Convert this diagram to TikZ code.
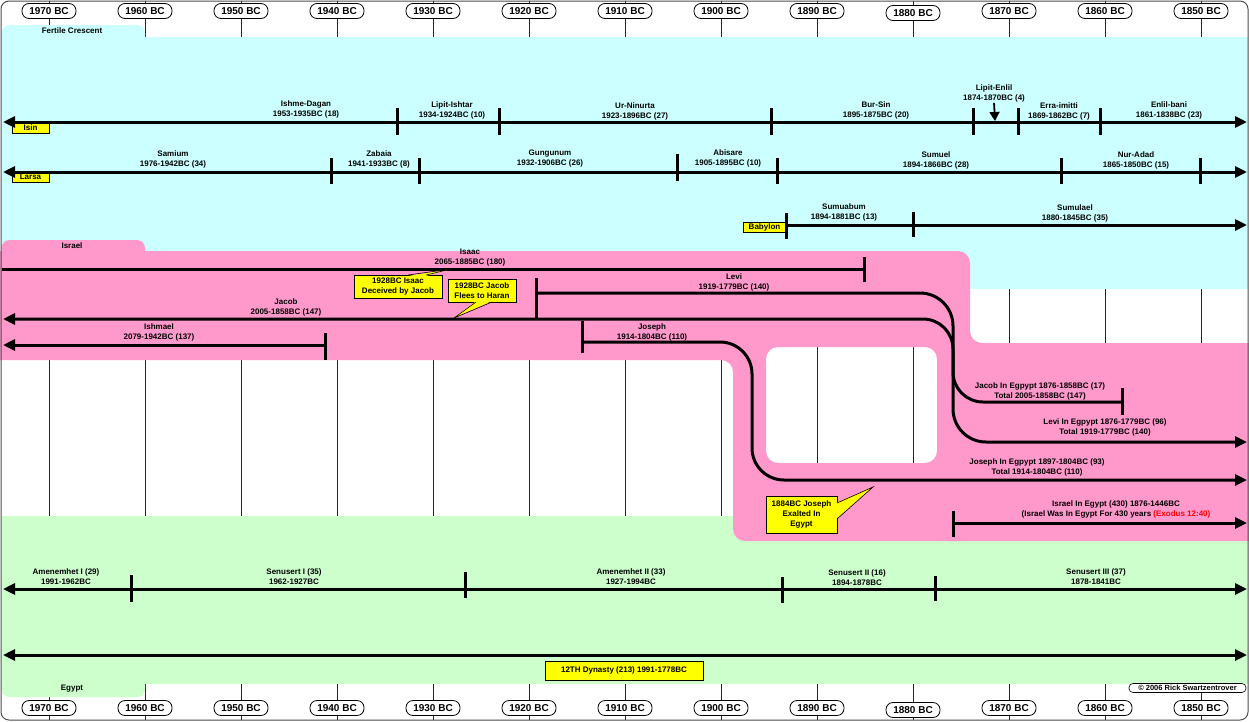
\documentclass[tikz,border=0pt]{standalone}
\usepackage{fontspec}
\setmainfont{Liberation Sans}
\usetikzlibrary{arrows.meta}
\usetikzlibrary{calc}

\definecolor{crescent}{HTML}{CCFFFF}
\definecolor{israelpink}{HTML}{FF99CC}
\definecolor{egyptgreen}{HTML}{CCFFCC}
\definecolor{noteyellow}{HTML}{FFFF00}

\tikzset{
  yearpill/.style={draw, line width=0.8pt, fill=white, rounded corners=7pt, minimum width=54pt, minimum height=15pt, inner sep=0pt, font=\fontsize{10}{12}\selectfont\bfseries},
  lbl/.style={align=center, inner sep=0pt, font=\fontsize{8}{10}\selectfont\bfseries},
  tagbox/.style={draw, line width=0.6pt, fill=noteyellow, inner sep=0pt, align=center, font=\fontsize{8}{10}\selectfont\bfseries},
  timeline/.style={line width=3pt},
  divider/.style={line width=3pt},
  gridline/.style={line width=0.8pt, black!85},
  rarr/.style={-{Triangle[length=12pt,width=11pt]}},
  larr/.style={{Triangle[length=12pt,width=11pt]}-},
  lrarr/.style={{Triangle[length=12pt,width=11pt]}-{Triangle[length=12pt,width=11pt]}},
}

\newcommand{\rtick}[3]{\draw[divider] (#1,#2) -- (#1,#3);}

\begin{document}
\begin{tikzpicture}[x=1pt,y=-1pt]
            \useasboundingbox (0,0) rectangle (1249,721);

            % Year grid
            \foreach \i in {0,...,12}
                \draw[gridline] ({49+96*\i},1) -- ({49+96*\i},720);

            % Fertile Crescent
            \fill[crescent, rounded corners=8pt] (1.5,25) rectangle (145,50);
            \fill[crescent] (1.5,37) rectangle (1248,289);
            \node[lbl] (fcres) at (72,31) {Fertile Crescent};

            % Egypt
            \fill[egyptgreen, rounded corners=8pt] (1.5,670) rectangle (145,697);
            \fill[egyptgreen] (1.5,516) rectangle (1248,684);
            \node[lbl] (egypt) at (72,689) {Egypt};

            % Israel
            \fill[israelpink, rounded corners=8pt] (1.5,240) rectangle (145,262);
            \fill[israelpink, even odd rule, rounded corners=12pt]
                (-20,251) -- (970,251) -- (970,343) -- (1270,343) -- (1270,541)
                -- (733,541) -- (733,360) -- (-20,360) -- cycle
                (766,347) rectangle (937,463);
            \node[lbl] (israel) at (72,246) {Israel};

            % Year labels
            \foreach \yr [count=\i from 0] in {1970,1960,...,1850}{
                \pgfmathsetmacro{\dy}{(\yr==1880)*2}
                \node[yearpill] (top\yr) at ({49+96*\i},{11+\dy}) {\yr\ BC};
                \node[yearpill] (bot\yr) at ({49+96*\i},{708+\dy}) {\yr\ BC};
            }

            % Isin
            \node[tagbox, minimum width=37pt, minimum height=10pt] (isin) at (30.5,128) {Isin};
            \draw[timeline, lrarr] (3,122) -- (1247,122);
            \foreach \x in {397,499,771,973,1018,1100} \rtick{\x}{108}{135};
            \node[lbl] (ishme) at (306,109) {Ishme-Dagan\\1953-1935BC (18)};
            \node[lbl] (lishtar) at (452,110) {Lipit-Ishtar\\1934-1924BC (10)};
            \node[lbl] (urnin) at (635,111) {Ur-Ninurta\\1923-1896BC (27)};
            \node[lbl] (bursin) at (876,110.5) {Bur-Sin\\1895-1875BC (20)};
            \node[lbl] (lenlil) at (994,93) {Lipit-Enlil\\1874-1870BC (4)};
            \node[lbl] (erra) at (1059,111) {Erra-imitti\\1869-1862BC (7)};
            \node[lbl] (enbani) at (1169,110) {Enlil-bani\\1861-1838BC (23)};
            \coordinate (lenlilpt) at (995,121);
            \draw[line width=1.8pt, -{Triangle[length=9pt,width=10pt]}, shorten <=1pt] (lenlil.south) -- (lenlilpt);

            % Larsa
            \node[tagbox, minimum width=37pt, minimum height=10pt] (larsa) at (30.5,177) {Larsa};
            \draw[timeline, lrarr] (3,172) -- (1247,172);
            \foreach \x in {331,419,777,1061,1200} \rtick{\x}{158}{184};
            \rtick{677}{154}{181}
            \node[lbl] (samium) at (173,159) {Samium\\1976-1942BC (34)};
            \node[lbl] (zabaia) at (379,159) {Zabaia\\1941-1933BC (8)};
            \node[lbl] (gungun) at (550,159) {Gungunum\\1932-1906BC (26)};
            \node[lbl] (abisare) at (728,158) {Abisare\\1905-1895BC (10)};
            \node[lbl] (sumuel) at (936,160) {Sumuel\\1894-1866BC (28)};
            \node[lbl] (nuradad) at (1136,160) {Nur-Adad\\1865-1850BC (15)};

            % Babylon
            \node[tagbox, minimum width=43pt, minimum height=10pt] (babylon) at (764.5,227) {Babylon};
            \draw[timeline, rarr] (786,225) -- (1247,225);
            \rtick{786}{213}{239}
            \rtick{913}{212}{237}
            \node[lbl] (sumuab) at (844,212.5) {Sumuabum\\1894-1881BC (13)};
            \node[lbl] (sumulael) at (1075,213) {Sumulael\\1880-1845BC (35)};

            % Patriarchs
            \draw[timeline] (1.5,269) -- (864,269);
            \rtick{864}{257}{282}
            \node[lbl] (isaac) at (470,258) {Isaac\\2065-1885BC (180)};

            \draw[timeline, rarr, rounded corners=33pt] (536,293) -- (953,293) -- (953,442) -- (1247,442);
            \rtick{536}{278}{319}
            \node[lbl] (levi) at (734,282) {Levi\\1919-1779BC (140)};

            \draw[timeline, larr, rounded corners=30pt] (3,319) -- (953,319) -- (953,402) -- (1122,402);
            \rtick{1122}{388}{415}
            \node[lbl] (jacob) at (286,307) {Jacob\\2005-1858BC (147)};

            \draw[timeline, rarr, rounded corners=32pt] (582,342) -- (752,342) -- (752,480) -- (1247,480);
            \rtick{582}{321}{353}
            \node[lbl] (joseph) at (652,332) {Joseph\\1914-1804BC (110)};

            \draw[timeline, larr] (3,345) -- (325,345);
            \rtick{325}{333}{360}
            \node[lbl] (ishmael) at (159,332) {Ishmael\\2079-1942BC (137)};

            % In Egypt
            \node[lbl] (jacobeg) at (1040,391) {Jacob In Egpypt 1876-1858BC (17)\\Total 2005-1858BC (147)};
            \node[lbl] (levieg) at (1105,427) {Levi In Egpypt 1876-1779BC (96)\\Total 1919-1779BC (140)};
            \node[lbl] (josepheg) at (1037,467) {Joseph In Egpypt 1897-1804BC (93)\\Total 1914-1804BC (110)};
            \draw[timeline, rarr] (953,523) -- (1247,523);
            \rtick{953}{511}{537}
            \node[lbl] (israeleg) at (1116,509) {Israel In Egypt (430) 1876-1446BC\\(Israel Was In Egypt For 430 years \textcolor{red}{(Exodus 12:40)}};

            % Callouts
            \node[tagbox, minimum width=88pt, minimum height=23pt] (isaacnote) at (398,286.5) {1928BC Isaac\\Deceived by Jacob};
            \fill[noteyellow] (408,276) -- (451,269) -- (426,276) -- cycle;
            \draw[line width=0.6pt] (408,275) -- (451,269) -- (426,275);

            \node[tagbox, minimum width=68pt, minimum height=23pt] (jacobnote) at (482,290.5) {1928BC Jacob\\Flees to Haran};
            \fill[noteyellow] (476,301) -- (454,318) -- (492,301) -- cycle;
            \draw[line width=0.6pt] (476,302) -- (454,318) -- (492,302);

            \node[tagbox, minimum width=71pt, minimum height=37pt] (josephnote) at (801.5,514.5) {1884BC Joseph\\Exalted In\\Egypt};
            \fill[noteyellow] (836,503) -- (873,487) -- (836,519) -- cycle;
            \draw[line width=0.6pt] (837,503) -- (873,487) -- (837,519);

            % Egyptian kings
            \draw[timeline, lrarr] (3,589) -- (1247,589);
            \rtick{131}{575}{602}
            \rtick{465}{572}{598}
            \rtick{782}{577}{603}
            \rtick{935}{576}{601}
            \node[lbl] (amen1) at (66,577) {Amenemhet I (29)\\1991-1962BC};
            \node[lbl] (senu1) at (294,577) {Senusert I (35)\\1962-1927BC};
            \node[lbl] (amen2) at (631,577) {Amenemhet II (33)\\1927-1994BC};
            \node[lbl] (senu2) at (857,578) {Senusert II (16)\\1894-1878BC};
            \node[lbl] (senu3) at (1096,577) {Senusert III (37)\\1878-1841BC};

            % Dynasty
            \draw[timeline, lrarr] (3,655) -- (1247,655);
            \node[tagbox, minimum width=158pt, minimum height=19pt] (dynasty) at (624,670.5) {12TH Dynasty (213) 1991-1778BC};

            % Copyright
            \node[draw, line width=0.6pt, fill=white, rounded corners=4pt, minimum width=117pt, minimum height=9pt, inner sep=0pt, font=\fontsize{7.5}{8}\selectfont\bfseries] (copyr) at (1187.5,688) {\textcopyright\ 2006 Rick Swartzentrover};

            % Frame
            \draw[black!70, line width=1pt, rounded corners=8pt] (1,1) rectangle (1248,720);
        \end{tikzpicture}
\end{document}
